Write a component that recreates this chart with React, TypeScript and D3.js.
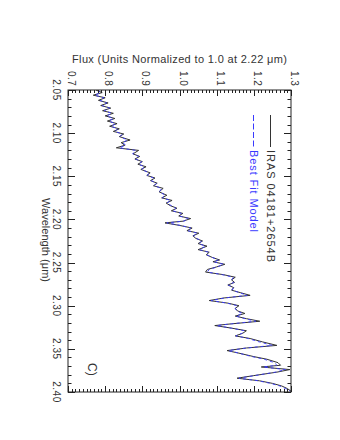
// import d3 and the react hooks
import * as d3 from "d3";
import { useRef, useEffect } from "react";

// wavelength samples (micron)
const wavelength = [
  2.050, 2.053, 2.056, 2.059, 2.062, 2.065, 2.068, 2.071, 2.074, 2.077,
  2.080, 2.083, 2.086, 2.089, 2.092, 2.095, 2.098, 2.101, 2.104, 2.108,
  2.111, 2.114, 2.117, 2.120, 2.124, 2.127, 2.130, 2.133, 2.136, 2.139,
  2.142, 2.146, 2.149, 2.152, 2.155, 2.158, 2.161, 2.164, 2.168, 2.172,
  2.175, 2.178, 2.181, 2.184, 2.187, 2.190, 2.193, 2.196, 2.199, 2.202,
  2.204, 2.207, 2.210, 2.213, 2.216, 2.219, 2.222, 2.225, 2.228, 2.231,
  2.235, 2.238, 2.241, 2.244, 2.247, 2.249, 2.252, 2.255, 2.258, 2.261,
  2.264, 2.267, 2.270, 2.273, 2.276, 2.279, 2.282, 2.285, 2.288, 2.291,
  2.294, 2.297, 2.300, 2.303, 2.306, 2.309, 2.312, 2.315, 2.318, 2.321,
  2.323, 2.326, 2.329, 2.332, 2.335, 2.338, 2.342, 2.346, 2.349, 2.352,
  2.355, 2.359, 2.362, 2.366, 2.369, 2.371, 2.374, 2.377, 2.381, 2.384,
  2.387, 2.390, 2.393, 2.396, 2.399,
];

// observed spectrum of IRAS 04181+2654B
const observedFlux = [
  0.775, 0.792, 0.768, 0.800, 0.782, 0.808, 0.788, 0.815, 0.793, 0.822,
  0.800, 0.826, 0.806, 0.832, 0.812, 0.838, 0.822, 0.850, 0.838, 0.867,
  0.843, 0.853, 0.830, 0.890, 0.875, 0.893, 0.880, 0.900, 0.888, 0.910,
  0.896, 0.921, 0.912, 0.934, 0.922, 0.940, 0.930, 0.956, 0.945, 0.966,
  0.952, 0.980, 0.964, 0.975, 0.993, 0.978, 1.009, 0.998, 1.030, 1.010,
  0.961, 1.001, 1.034, 1.020, 1.052, 1.036, 1.044, 1.062, 1.050, 1.074,
  1.050, 1.080, 1.072, 1.088, 1.108, 1.090, 1.122, 1.100, 1.075, 1.070,
  1.118, 1.150, 1.140, 1.148, 1.130, 1.146, 1.140, 1.165, 1.190, 1.120,
  1.080, 1.130, 1.160, 1.150, 1.156, 1.176, 1.150, 1.180, 1.216, 1.140,
  1.095, 1.140, 1.180, 1.170, 1.150, 1.190, 1.224, 1.262, 1.180, 1.128,
  1.160, 1.200, 1.235, 1.265, 1.272, 1.220, 1.297, 1.262, 1.200, 1.155,
  1.215, 1.250, 1.275, 1.290, 1.300,
];

// best fit model spectrum
const modelFlux = [
  0.780, 0.788, 0.772, 0.796, 0.786, 0.804, 0.792, 0.812, 0.798, 0.818,
  0.804, 0.822, 0.810, 0.828, 0.816, 0.834, 0.826, 0.846, 0.840, 0.860,
  0.846, 0.856, 0.838, 0.882, 0.874, 0.890, 0.882, 0.898, 0.890, 0.906,
  0.898, 0.918, 0.914, 0.930, 0.924, 0.938, 0.932, 0.952, 0.946, 0.962,
  0.954, 0.976, 0.966, 0.978, 0.990, 0.982, 1.005, 1.000, 1.024, 1.012,
  0.966, 1.004, 1.030, 1.022, 1.048, 1.038, 1.046, 1.060, 1.052, 1.070,
  1.054, 1.078, 1.074, 1.088, 1.104, 1.092, 1.118, 1.102, 1.080, 1.075,
  1.115, 1.145, 1.140, 1.146, 1.132, 1.145, 1.142, 1.162, 1.182, 1.122,
  1.085, 1.128, 1.155, 1.150, 1.154, 1.170, 1.152, 1.176, 1.205, 1.140,
  1.100, 1.140, 1.175, 1.168, 1.152, 1.185, 1.215, 1.250, 1.180, 1.132,
  1.160, 1.195, 1.228, 1.255, 1.262, 1.225, 1.285, 1.258, 1.202, 1.160,
  1.212, 1.245, 1.270, 1.285, 1.298,
];

// tick labels of the two axes
const fluxTicks = [0.7, 0.8, 0.9, 1.0, 1.1, 1.2, 1.3];
const waveTicks = [2.05, 2.10, 2.15, 2.20, 2.25, 2.30, 2.35, 2.40];

// legend entries
const legendLabels = ["IRAS 04181+2654B", "Best Fit Model"];

export default function App() {
  const svgRef = useRef<SVGSVGElement>(null);

  useEffect(() => {
    // drop the default body margin so the svg sits at 0,0
    document.body.style.margin = "0";

    const svg = d3.select(svgRef.current);
    svg.selectAll("*").remove();

    const W = 340, H = 440;
    const margin = { top: 90, right: 49, bottom: 48, left: 68 };
    const font = "'Liberation Sans', Arial, sans-serif";
    const ink = "#222";
    const textInk = "#333";
    const traceInk = "#333";
    const blue = "#3a3aff";

    // flux runs left to right, wavelength top to bottom (rotated plot)
    const x = d3.scaleLinear().domain([0.7, 1.3]).range([margin.left, W - margin.right]);
    const y = d3.scaleLinear().domain([2.05, 2.40]).range([margin.top, H - margin.bottom]);

    svg.append("rect").attr("width", W).attr("height", H).attr("fill", "#fff");

    // clip the spectra to the frame
    svg.append("clipPath").attr("id", "plot-clip")
      .append("rect")
      .attr("x", x(0.7)).attr("y", y(2.05))
      .attr("width", x(1.3) - x(0.7)).attr("height", y(2.40) - y(2.05));

    const obs = wavelength.map((w, i) => ({ w, f: observedFlux[i] }));
    const mod = wavelength.map((w, i) => ({ w, f: modelFlux[i] }));
    const line = d3.line<{ w: number; f: number }>().x(d => x(d.f)).y(d => y(d.w));

    const g = svg.append("g").attr("clip-path", "url(#plot-clip)");
    g.append("path").datum(obs).attr("fill", "none").attr("stroke", traceInk).attr("stroke-width", 1).attr("d", line);
    g.append("path").datum(mod).attr("fill", "none").attr("stroke", blue).attr("stroke-width", 0.9)
      .attr("stroke-dasharray", "3,3").attr("d", line);

    // frame
    svg.append("rect")
      .attr("x", x(0.7)).attr("y", y(2.05))
      .attr("width", x(1.3) - x(0.7)).attr("height", y(2.40) - y(2.05))
      .attr("fill", "none").attr("stroke", ink).attr("stroke-width", 1);

    // top and bottom ticks (flux), minor every 0.01
    const isMajorF = (v: number) => Math.abs(v * 10 - Math.round(v * 10)) < 1e-6;
    const ticksG = svg.append("g").attr("stroke", ink).attr("stroke-width", 1);
    x.ticks(60).forEach(v => {
      const len = isMajorF(v) ? 6 : 3;
      const px = Math.round(x(v)) + 0.5;
      ticksG.append("line").attr("x1", px).attr("x2", px).attr("y1", y(2.05)).attr("y2", y(2.05) + len);
      ticksG.append("line").attr("x1", px).attr("x2", px).attr("y1", y(2.40)).attr("y2", y(2.40) - len);
    });

    // left and right ticks (wavelength), minor every 0.01
    const isMajorW = (v: number) => Math.abs(v * 20 - Math.round(v * 20)) < 1e-6;
    y.ticks(35).forEach(v => {
      const len = isMajorW(v) ? 7 : 3.5;
      const py = Math.round(y(v)) + 0.5;
      ticksG.append("line").attr("x1", x(0.7)).attr("x2", x(0.7) + len).attr("y1", py).attr("y2", py);
      ticksG.append("line").attr("x1", x(1.3)).attr("x2", x(1.3) - len).attr("y1", py).attr("y2", py);
    });

    // rotated tick labels on top
    fluxTicks.forEach(v => {
      svg.append("text")
        .attr("transform", `translate(${x(v)},71) rotate(90)`)
        .attr("font-family", font).attr("font-size", 10).attr("fill", textInk)
        .attr("letter-spacing", 0.5)
        .text(d3.format(".1f")(v));
    });

    // rotated tick labels on the left
    waveTicks.forEach(v => {
      svg.append("text")
        .attr("transform", `translate(52.5,${y(v)}) rotate(90)`)
        .attr("text-anchor", "middle")
        .attr("font-family", font).attr("font-size", 10).attr("fill", textInk)
        .attr("letter-spacing", 0.5)
        .text(d3.format(".2f")(v));
    });

    // axis titles
    svg.append("text")
      .attr("x", 72).attr("y", 63)
      .attr("textLength", 215).attr("lengthAdjust", "spacing")
      .attr("font-family", font).attr("font-size", 11).attr("fill", textInk)
      .text("Flux (Units Normalized to 1.0 at 2.22 \u03bcm)");

    svg.append("text")
      .attr("transform", "translate(42,198) rotate(90)")
      .attr("textLength", 84).attr("lengthAdjust", "spacing")
      .attr("font-family", font).attr("font-size", 11).attr("fill", textInk)
      .text("Wavelength (\u03bcm)");

    // legend, rotated like the rest of the figure
    const legend = [
      { label: legendLabels[0], color: textInk, dash: null, cx: 270.5, len: 112 },
      { label: legendLabels[1], color: blue, dash: "6,2.5", cx: 253.5, len: 82 },
    ];
    legend.forEach(d => {
      svg.append("line")
        .attr("x1", d.cx).attr("x2", d.cx).attr("y1", 115).attr("y2", 147)
        .attr("stroke", d.color).attr("stroke-width", 1)
        .attr("stroke-dasharray", d.dash);
      svg.append("text")
        .attr("transform", `translate(${d.cx - 4},150) rotate(90)`)
        .attr("textLength", d.len).attr("lengthAdjust", "spacing")
        .attr("font-family", font).attr("font-size", 11).attr("fill", d.color)
        .text(d.label);
    });

    // panel letter
    svg.append("text")
      .attr("transform", "translate(88,363) rotate(90)")
      .attr("font-family", font).attr("font-size", 12).attr("fill", textInk)
      .text("C)");
  }, []);

  return <svg ref={svgRef} width={340} height={440} style={{ display: "block" }} />;
}
